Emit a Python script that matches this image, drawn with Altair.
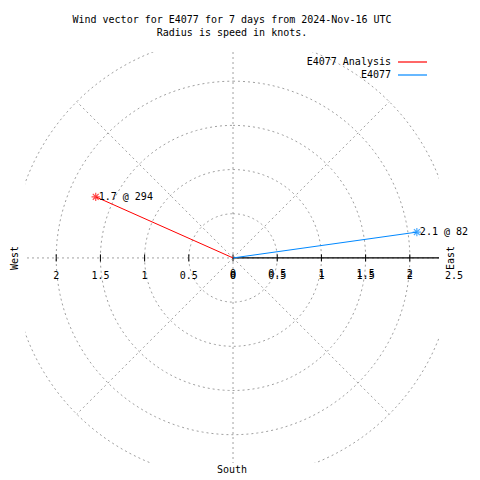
import math
import altair as alt
import pandas as pd

# ---- data ----
series_names = ["E4077 Analysis", "E4077"]
series_colors = ["#ff0000", "#0088ff"]
speeds = [1.7, 2.1]          # knots
directions = [294, 82]       # degrees from north, clockwise

grid_radii = [0.5, 1.0, 1.5, 2.0, 2.5]
spoke_angles = [45, 135, 225, 315]
spoke_length = 2.5
left_ticks = [-2.0, -1.5, -1.0, -0.5, 0.0]
left_tick_labels = ["2", "1.5", "1", "0.5", "0"]
right_ticks_a = [0.0, 0.5, 1.0, 1.5, 2.0]
right_labels_a = ["0", "0.5", "1", "1.5", "2"]
right_ticks_b = [0.0, 0.5, 1.0, 1.5, 2.0, 2.5]
right_labels_b = ["0", "0.5", "1", "1.5", "2", "2.5"]
tick_marks = [-2.0, -1.5, -1.0, -0.5, 0.0, 0.5, 1.0, 1.5, 2.0]
title_lines = ["Wind vector for E4077 for 7 days from 2024-Nov-16 UTC",
               "Radius is speed in knots."]

W, H = 414, 411
FONT = "DejaVu Sans Mono"
FS = 10
GRID = "#a0a0a0"
DASH = [2, 3]

one = pd.DataFrame({"d": [0]})

xs = alt.Scale(domain=[-2.353, 2.33], nice=False, zero=False)
ys = alt.Scale(domain=[-2.32, 2.33], nice=False, zero=False)
X = lambda f: alt.X(f, type="quantitative", scale=xs, axis=None)
Y = lambda f: alt.Y(f, type="quantitative", scale=ys, axis=None)

# grid circles
circ_rows = []
for r in grid_radii:
    for a in range(0, 361, 2):
        circ_rows.append({"r": r, "a": a})
circ_df = pd.DataFrame(circ_rows)
circles = alt.Chart(circ_df).transform_calculate(
    cx="datum.r*sin(datum.a*PI/180)", cy="datum.r*cos(datum.a*PI/180)"
).mark_line(color=GRID, strokeDash=DASH, strokeWidth=1, clip=True).encode(
    x=X("cx"), y=Y("cy"), detail="r:N", order="a:Q"
)

spokes = alt.Chart(pd.DataFrame({"a": spoke_angles, "len": spoke_length})).transform_calculate(
    x0="0", y0="0",
    x1="datum.len*sin(datum.a*PI/180)", y1="datum.len*cos(datum.a*PI/180)"
).mark_rule(color=GRID, strokeDash=DASH, strokeWidth=1, clip=True).encode(
    x=X("x0"), y=Y("y0"), x2="x1:Q", y2="y1:Q"
)

hline = alt.Chart(one).mark_rule(color=GRID, strokeDash=DASH).encode(
    y=alt.Y(datum=0, scale=ys, axis=None))
vline = alt.Chart(one).mark_rule(color=GRID, strokeDash=DASH).encode(
    x=alt.X(datum=0, scale=xs, axis=None))
raxis = alt.Chart(one).mark_rule(color="black", strokeWidth=1.2).encode(
    x=alt.X(datum=0, scale=xs, axis=None), x2=alt.value(W),
    y=alt.Y(datum=0, scale=ys, axis=None)
)
ticks = alt.Chart(pd.DataFrame({"t": tick_marks})).transform_calculate(
    ya="-0.04", yb="0.04"
).mark_rule(color="black").encode(x=X("t"), y=Y("ya"), y2="yb:Q")

def tick_text(vals, labs, ypix):
    return alt.Chart(pd.DataFrame({"t": vals, "lab": labs})).mark_text(
        font=FONT, fontSize=FS, baseline="middle", align="center", color="black"
    ).encode(x=X("t"), y=alt.value(ypix), text="lab:N")

tl_left = tick_text(left_ticks, left_tick_labels, 224)
tl_ra = tick_text(right_ticks_a, right_labels_a, 221.5)
tl_rb = tick_text(right_ticks_b, right_labels_b, 224)

vec_df = pd.DataFrame({"name": series_names, "speed": speeds, "dir": directions})
cscale = alt.Scale(domain=series_names, range=series_colors)
vbase = alt.Chart(vec_df).transform_calculate(
    x0="0", y0="0",
    vx="datum.speed*sin(datum.dir*PI/180)", vy="datum.speed*cos(datum.dir*PI/180)",
    lab="format(datum.speed, '.1f') + ' @ ' + datum.dir"
)
vectors = vbase.mark_rule(strokeWidth=1).encode(
    x=X("x0"), y=Y("y0"), x2="vx:Q", y2="vy:Q",
    color=alt.Color("name:N", scale=cscale, legend=None)
)
star = "M-1,0L1,0M0,-1L0,1M-0.7,-0.7L0.7,0.7M-0.7,0.7L0.7,-0.7"
markers = vbase.mark_point(shape=star, filled=False, size=70, strokeWidth=1.2).encode(
    x=X("vx"), y=Y("vy"), color=alt.Color("name:N", scale=cscale, legend=None)
)
vlabels = vbase.mark_text(font=FONT, fontSize=FS, align="left", baseline="middle",
                          dx=3, color="black").encode(
    x=X("vx"), y=Y("vy"), text="lab:N"
)

layers = [circles, spokes, hline, vline, raxis, ticks, tl_left, tl_ra, tl_rb,
          vectors, markers, vlabels]

# legend
for i, (nm, col) in enumerate(zip(series_names, series_colors)):
    yy = 10 + 13 * i
    layers.append(alt.Chart(one).mark_text(font=FONT, fontSize=FS, align="right",
                                           baseline="middle", color="black").encode(
        x=alt.value(366), y=alt.value(yy), text=alt.value(nm)))
    layers.append(alt.Chart(one).mark_rule(color=col, strokeWidth=1.2).encode(
        x=alt.value(373), x2=alt.value(402), y=alt.value(yy)))

# titles / compass labels
for i, t in enumerate(title_lines):
    layers.append(alt.Chart(one).mark_text(font=FONT, fontSize=FS, align="center",
                                           baseline="middle", color="black").encode(
        x=alt.value(207), y=alt.value(-32 + 13 * i), text=alt.value(t)))
layers.append(alt.Chart(one).mark_text(font=FONT, fontSize=FS, align="center",
                                       baseline="middle", angle=270, color="black").encode(
    x=alt.value(-10), y=alt.value(206), text=alt.value("West")))
layers.append(alt.Chart(one).mark_text(font=FONT, fontSize=FS, align="center",
                                       baseline="middle", angle=270, color="black").encode(
    x=alt.value(426), y=alt.value(206), text=alt.value("East")))
layers.append(alt.Chart(one).mark_text(font=FONT, fontSize=FS, align="center",
                                       baseline="middle", color="black").encode(
    x=alt.value(207), y=alt.value(418), text=alt.value("South")))

chart = alt.layer(*layers).properties(
    width=W, height=H,
    autosize=alt.AutoSizeParams(type="none"),
    padding={"left": 17, "top": 44, "right": 33, "bottom": 16},
).configure(background="white").configure_view(stroke=None, strokeWidth=0)

chart.save("out.html", embed_options={"renderer": "svg", "actions": False})
